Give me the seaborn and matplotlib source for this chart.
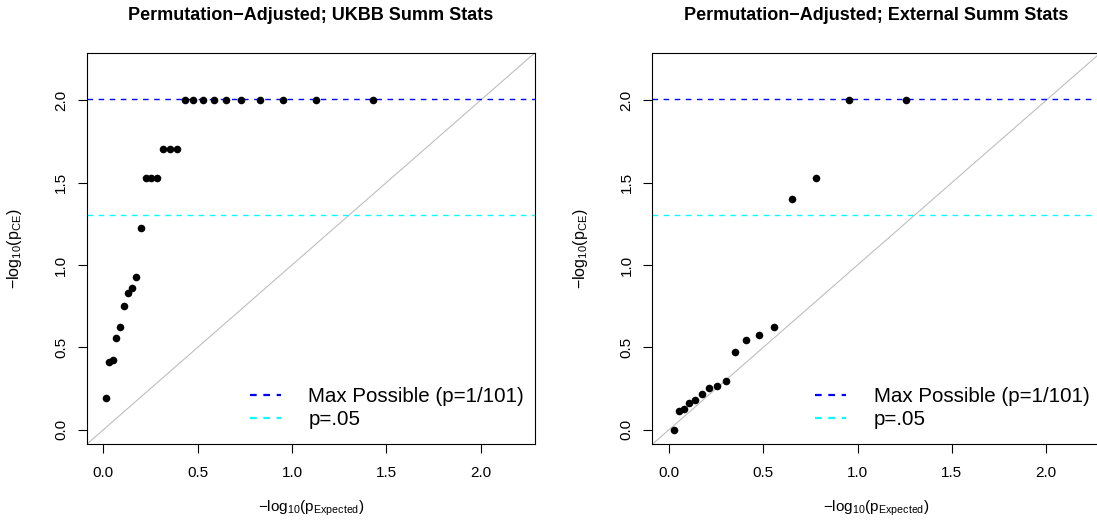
import matplotlib
matplotlib.use('Agg')
import numpy as np
import seaborn as sns
import matplotlib.pyplot as plt
from matplotlib.lines import Line2D

# left panel: UKBB summary stats
ukbb_expected = [0.016, 0.033, 0.051, 0.070, 0.089, 0.109, 0.130, 0.153, 0.176,
                 0.201, 0.227, 0.255, 0.285, 0.317, 0.352, 0.390, 0.431, 0.477,
                 0.528, 0.586, 0.653, 0.732, 0.829, 0.954, 1.130, 1.431]
ukbb_observed = [0.191, 0.413, 0.425, 0.557, 0.624, 0.749, 0.828, 0.858, 0.925,
                 1.226, 1.527, 1.527, 1.527, 1.703, 1.703, 1.703, 2.004, 2.004,
                 2.004, 2.004, 2.004, 2.004, 2.004, 2.004, 2.004, 2.004]

# right panel: external summary stats
ext_expected = [0.025, 0.051, 0.079, 0.109, 0.141, 0.176, 0.214, 0.255, 0.301,
                0.352, 0.410, 0.477, 0.556, 0.653, 0.778, 0.954, 1.255]
ext_observed = [0.000, 0.112, 0.129, 0.165, 0.178, 0.219, 0.256, 0.264, 0.297,
                0.473, 0.542, 0.573, 0.624, 1.402, 1.527, 2.004, 2.004]

titles = ['Permutation\u2212Adjusted; UKBB Summ Stats',
          'Permutation\u2212Adjusted; External Summ Stats']
max_possible = 2.0043   # -log10(1/101)
sig_line = 1.3010       # -log10(.05)
legend_labels = ['Max Possible (p=1/101)', 'p=.05']

sns.set_theme(style='white')
plt.rcParams['font.family'] = ['Liberation Sans', 'DejaVu Sans']
plt.rcParams['mathtext.fontset'] = 'custom'
plt.rcParams['mathtext.rm'] = 'Liberation Sans'
plt.rcParams['mathtext.it'] = 'Liberation Sans'
plt.rcParams['mathtext.default'] = 'regular'
plt.rcParams['text.color'] = 'black'
plt.rcParams['axes.labelcolor'] = 'black'

fig = plt.figure(figsize=(10.97, 5.25), dpi=100)
ax1 = fig.add_axes([0.0790, 0.1537, 0.4087, 0.7459])
ax2 = fig.add_axes([0.5946, 0.1537, 0.4087, 0.7459])

panels = [(ax1, ukbb_expected, ukbb_observed, titles[0]),
          (ax2, ext_expected, ext_observed, titles[1])]

for ax, xs, ys, title in panels:
    ax.axline((0, 0), slope=1, color='#BEBEBE', lw=0.8, zorder=1)
    sns.scatterplot(x=xs, y=ys, ax=ax, color='black', s=30, linewidth=0, zorder=3)
    ax.axhline(max_possible, color='blue', lw=1.0, ls=(0, (4, 4)), zorder=2)
    ax.axhline(sig_line, color='cyan', lw=1.0, ls=(0, (4, 4)), zorder=2)

    ax.set_xlim(-0.088, 2.288)
    ax.set_ylim(-0.088, 2.288)
    ticks = [0.0, 0.5, 1.0, 1.5, 2.0]
    ax.set_xticks(ticks)
    ax.set_yticks(ticks)
    ax.set_xticklabels(['%.1f' % t for t in ticks])
    ax.set_yticklabels(['%.1f' % t for t in ticks], rotation=90, va='center')
    ax.tick_params(axis='both', direction='out', length=6.5, width=0.8,
                   color='black', labelsize=11, labelcolor='black')
    ax.tick_params(axis='x', pad=9, bottom=True)
    ax.tick_params(axis='y', pad=7, left=True)
    for sp in ax.spines.values():
        sp.set_visible(True)
        sp.set_color('black')
        sp.set_linewidth(0.8)

    ax.set_xlabel(r'$-log_{10}(p_{Expected})$', fontsize=11, va='center')
    ax.set_ylabel(r'$-log_{10}(p_{CE})$', fontsize=11.5, va='center')
    ax.xaxis.set_label_coords(0.5, -0.163)
    ax.yaxis.set_label_coords(-0.16, 0.5)
    ax.text(0.5, 1.096, title, transform=ax.transAxes, fontsize=13,
            fontweight='bold', ha='center', va='center')

    handles = [Line2D([], [], color='blue', lw=1.6, ls=(0, (3, 3))),
               Line2D([], [], color='cyan', lw=1.6, ls=(0, (3, 3)))]
    ax.legend(handles, legend_labels, loc='center left',
              bbox_to_anchor=(0.364, 0.093), frameon=False, fontsize=14.8,
              borderpad=0, borderaxespad=0, handlelength=1.5,
              handletextpad=1.35, labelspacing=0.2)

fig.savefig('out.png', dpi=100)
